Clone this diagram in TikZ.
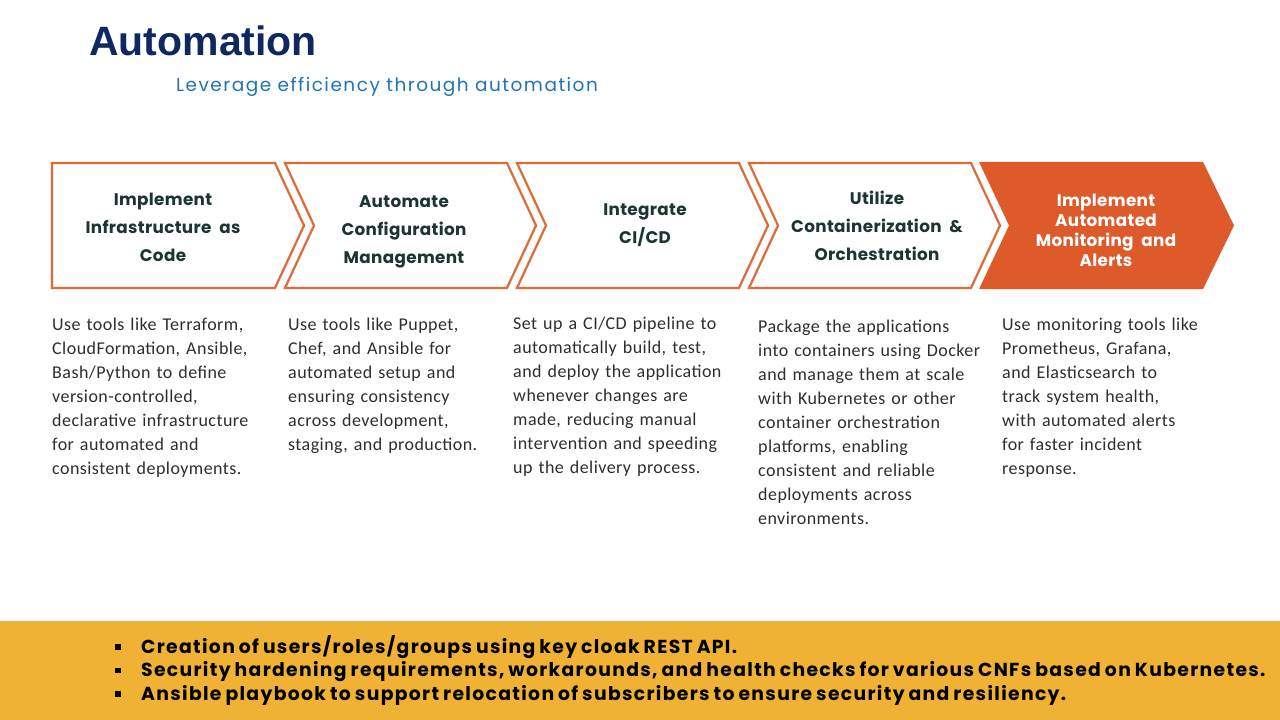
\documentclass[tikz,border=0pt]{standalone}
\usepackage{fontspec}
\setmainfont{Carlito}[LetterSpace=2.5]
\newfontfamily\headfont{Poppins}[LetterSpace=2]
\newfontfamily\notefont{Poppins}[LetterSpace=7]
\newfontfamily\titlefont{Liberation Sans}
\newfontfamily\subfont{Poppins}[LetterSpace=8]
\definecolor{navy}{HTML}{0F2862}
\definecolor{subblue}{HTML}{2173B8}
\definecolor{chevline}{HTML}{DF6A37}
\definecolor{chevfill}{HTML}{DE5A2B}
\definecolor{headtxt}{HTML}{1C3533}
\definecolor{bodytxt}{HTML}{2E2E2E}
\definecolor{banner}{HTML}{F0B234}
\newcommand{\sqbullet}{\raisebox{3.5pt}{\rule{5.5pt}{5.5pt}}\hspace{20.5pt}}
\newcommand{\bodyface}{\fontsize{18}{24}\selectfont\spaceskip=6pt plus 1pt minus 1pt\relax}
\newcommand{\noteface}{\notefont\bfseries\fontsize{18.8}{23.5}\selectfont\spaceskip=4pt\relax}
\begin{document}
\begin{tikzpicture}[x=1pt,y=-1pt,
  chev/.style={draw=chevline,line width=2.2pt,line join=miter,fill=white},
  chevhot/.style={fill=chevfill,draw=none},
  headlbl/.style={align=center,inner sep=0pt,text=headtxt,
    font=\headfont\bfseries\fontsize{16.8}{28}\selectfont},
  hotlbl/.style={align=center,inner sep=0pt,text=white,
    font=\headfont\bfseries\fontsize{16.8}{20}\selectfont},
  bodylbl/.style={align=left,anchor=north west,inner sep=0pt,text=bodytxt,
    font=\bodyface},
]
\useasboundingbox (0,0) rectangle (1280,720);
\fill[white] (0,0) rectangle (1280,720);

% title and subtitle
\node[anchor=base west,inner sep=0pt,text=navy,font=\titlefont\bfseries\fontsize{41}{44}\selectfont] (title) at (89,55) {Automation};
\node[anchor=base west,inner sep=0pt,text=subblue,font=\subfont\fontsize{18.5}{20}\selectfont] (subtitle) at (176,91) {Leverage efficiency through automation};

% process chevrons
\draw[chev] (52,163) -- (275,163) -- (304,225.5) -- (275,288) -- (52,288) -- cycle;
\foreach \L in {285,517,749}{
  \draw[chev] (\L,163) -- (\L+222,163) -- (\L+251,225.5) -- (\L+222,288) -- (\L,288) -- (\L+29,225.5) -- cycle;
}
\fill[chevhot] (979,161.9) -- (1203,161.9) -- (1234,225.5) -- (1203,289.1) -- (979,289.1) -- (1009,225.5) -- cycle;

\node[headlbl] (h1) at (163,227) {Implement\\Infrastructure\ \ as\\Code};
\node[headlbl] (h2) at (404,232) {Automate\\Configuration\\Management};
\node[headlbl] (h3) at (645,225) {Integrate\\CI/CD};
\node[headlbl] (h4) at (877,226) {Utilize\\Containerization\ \ \&\\Orchestration};
\node[hotlbl] (h5) at (1106,230) {Implement\\Automated\\Monitoring\ \ and\\Alerts};

% descriptions
\node[bodylbl] (d1) at (52,318) {Use tools like Terraform,\\CloudFormation, Ansible,\\Bash/Python to define\\version-controlled,\\declarative infrastructure\\for automated and\\consistent deployments.};
\node[bodylbl] (d2) at (288,318) {Use tools like Puppet,\\Chef, and Ansible for\\automated setup and\\ensuring consistency\\across development,\\staging, and production.};
\node[bodylbl] (d3) at (513,317) {Set up a CI/CD pipeline to\\automatically build, test,\\and deploy the application\\whenever changes are\\made, reducing manual\\intervention and speeding\\up the delivery process.};
\node[bodylbl] (d4) at (758,320) {Package the applications\\into containers using Docker\\and manage them at scale\\with Kubernetes or other\\container orchestration\\platforms, enabling\\consistent and reliable\\deployments across\\environments.};
\node[bodylbl] (d5) at (1002,318) {Use monitoring tools like\\Prometheus, Grafana,\\and Elasticsearch to\\track system health,\\with automated alerts\\for faster incident\\response.};

% highlights banner
\fill[banner] (0,621) rectangle (1280,720);
\node[anchor=north west,align=left,inner sep=0pt,text=black,font=\noteface] (notes) at (115,635)
  {\sqbullet Creation of users/roles/groups using key cloak REST API.\\
   \sqbullet Security hardening requirements, workarounds, and health checks for various CNFs based on Kubernetes.\\
   \sqbullet Ansible playbook to support relocation of subscribers to ensure security and resiliency.};
\end{tikzpicture}
\end{document}
